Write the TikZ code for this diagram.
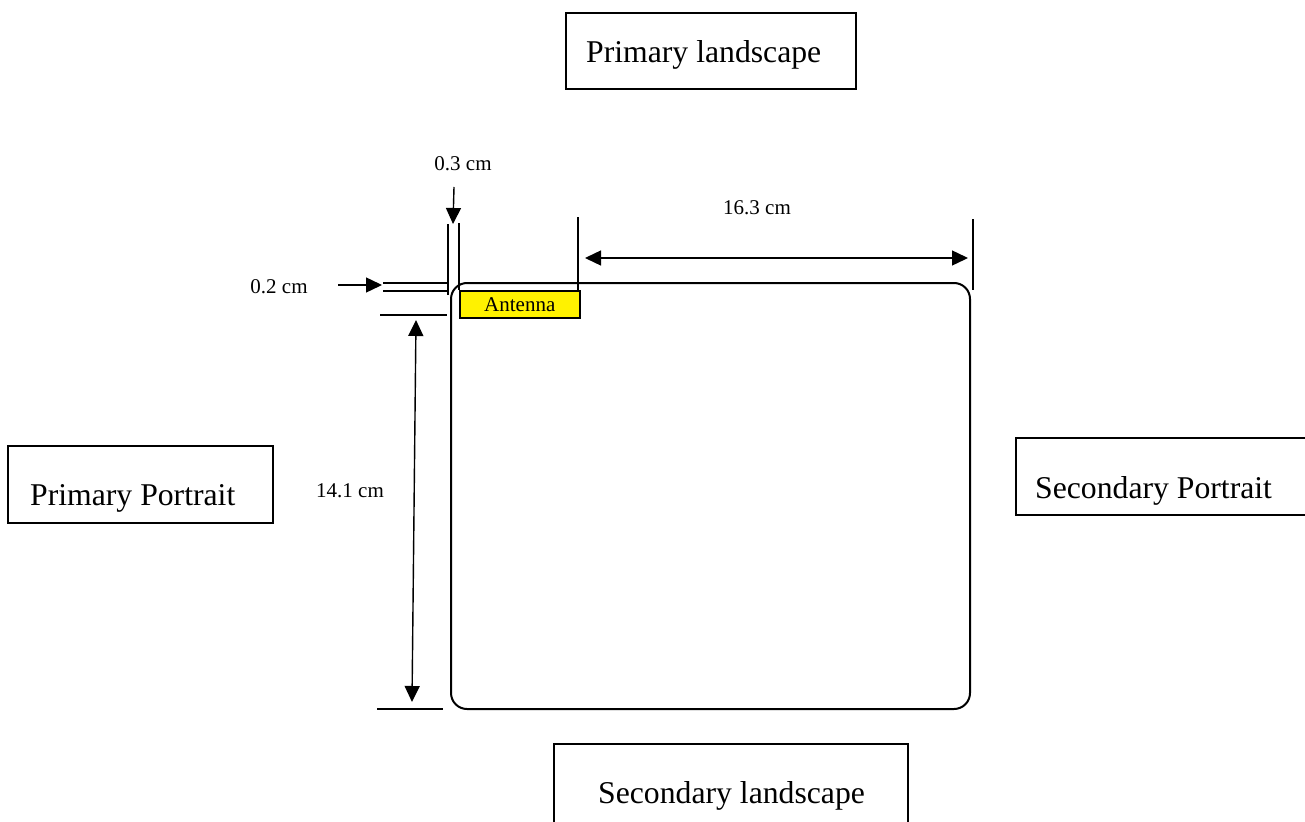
\documentclass[tikz,border=0pt]{standalone}
\usepackage{fontspec}
\setmainfont{Liberation Serif}
\usetikzlibrary{arrows.meta}
\begin{document}
\begin{tikzpicture}[x=1pt,y=-1pt,
  boxline/.style={draw,line width=1.6pt},
  bigtext/.style={anchor=base west,inner sep=0pt,font=\fontsize{31.7}{38}\selectfont},
  dimtext/.style={font=\fontsize{21}{25}\selectfont,inner sep=0pt},
  ext/.style={line width=1.4pt},
  dimarrow/.style={line width=1.4pt,-{Triangle[length=16pt,width=15pt]}},
  dimarrows/.style={line width=1.4pt,{Triangle[length=16pt,width=15pt]}-{Triangle[length=16pt,width=15pt]}}]
\useasboundingbox (0,0) rectangle (1305,821);
% orientation boxes
\draw[boxline] (566,13) rectangle (856,89);
\node[bigtext] (pl) at (586,63) {Primary landscape};
\draw[boxline] (8,446) rectangle (273,523);
\node[bigtext] (pp) at (30,505) {Primary Portrait};
\draw[boxline] (1016,438) rectangle (1320,515);
\node[bigtext] (sp) at (1035,498) {Secondary Portrait};
\draw[boxline] (554,744) rectangle (908,840);
\node[bigtext] (sl) at (598,803) {Secondary landscape};
% device outline
\draw[line width=2pt,rounded corners=16pt] (451,283) rectangle (970,709);
\node[draw,fill=yellow,line width=1.5pt,minimum width=120pt,minimum height=27pt,inner sep=0pt,anchor=north west,font=\fontsize{21}{25}\selectfont] (ant) at (459,290) {Antenna};
% extension lines
\coordinate (e1a) at (448,224); \coordinate (e1b) at (448,295);
\coordinate (e2a) at (459,223); \coordinate (e2b) at (459,290);
\coordinate (e3a) at (578,217); \coordinate (e3b) at (578,290);
\coordinate (e4a) at (973,219); \coordinate (e4b) at (973,290);
\coordinate (h1a) at (383,283); \coordinate (h1b) at (448,283);
\coordinate (h2a) at (383,291); \coordinate (h2b) at (448,291);
\coordinate (h3a) at (380,315); \coordinate (h3b) at (447,315);
\coordinate (h4a) at (377,709); \coordinate (h4b) at (443,709);
\foreach \p in {e1,e2,e3,e4,h1,h2,h3,h4} \draw[ext] (\p a) -- (\p b);
% arrows
\coordinate (a1s) at (338,285); \coordinate (a1e) at (382,285);
\coordinate (a2s) at (454,187); \coordinate (a2e) at (453,224);
\coordinate (a3s) at (585,258); \coordinate (a3e) at (968,258);
\coordinate (a4s) at (416,320); \coordinate (a4e) at (412,702);
\draw[dimarrow] (a1s) -- (a1e);
\draw[dimarrow] (a2s) -- (a2e);
\draw[dimarrows] (a3s) -- (a3e);
\draw[dimarrows] (a4s) -- (a4e);
% labels
\node[dimtext] (t03) at (463,164) {0.3 cm};
\node[dimtext] (t02) at (279,287) {0.2 cm};
\node[dimtext] (t163) at (757,208) {16.3 cm};
\node[dimtext] (t141) at (350,491) {14.1 cm};
\end{tikzpicture}
\end{document}
